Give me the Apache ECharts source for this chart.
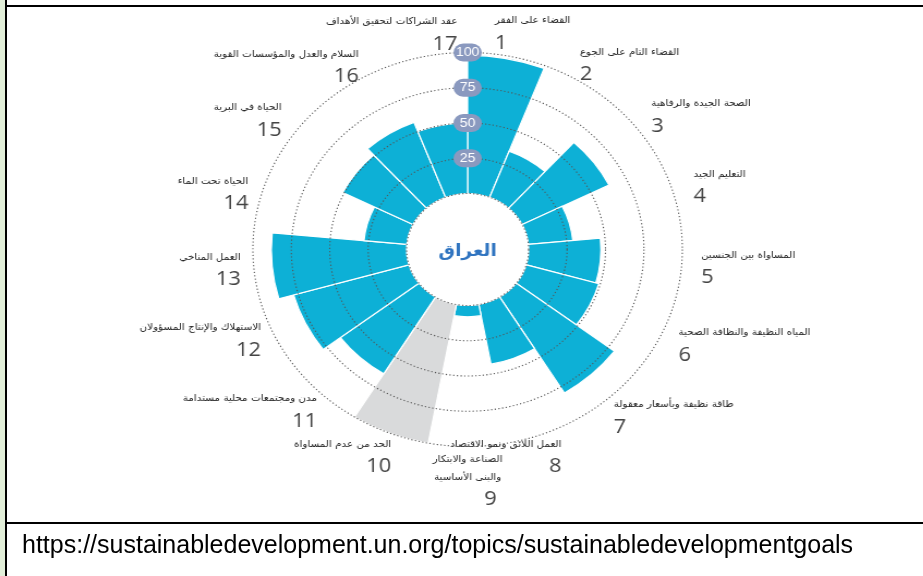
<!DOCTYPE html>
<html>
<head>
<meta charset="utf-8">
<script src="https://cdn.jsdelivr.net/npm/echarts@6/dist/echarts.min.js"></script>
<style>
  html, body { margin: 0; padding: 0; background: #fff; }
  #page { position: relative; width: 923px; height: 576px; overflow: hidden; }
  #chart { position: absolute; left: 0; top: 0; width: 847px; height: 520px; transform-origin: 0 0; transform: scaleX(1.09); }
  #strip { position: absolute; left: 0; top: 0; width: 5px; height: 576px; background: #e2efd9; }
  #vline { position: absolute; left: 5px; top: 0; width: 2px; height: 576px; background: #000; }
  #topline { position: absolute; left: 5px; top: 5px; width: 918px; height: 2px; background: #000; }
  #midline { position: absolute; left: 5px; top: 522px; width: 918px; height: 2px; background: #000; }
  #url { position: absolute; left: 22px; top: 530px; font: 25px 'Liberation Sans', Arial, sans-serif; color: #000; }
</style>
</head>
<body>
<div id="page">
  <div id="chart"></div>
  <div id="strip"></div>
  <div id="vline"></div>
  <div id="topline"></div>
  <div id="midline"></div>
  <div id="url">https://sustainabledevelopment.un.org/topics/sustainabledevelopmentgoals</div>
</div>
<script>
// the 17 goals, clockwise from the top
const goals = [
  'القضاء على الفقر',
  'القضاء التام على الجوع',
  'الصحة الجيدة والرفاهية',
  'التعليم الجيد',
  'المساواة بين الجنسين',
  'المياه النظيفة والنظافة الصحية',
  'طاقة نظيفة وبأسعار معقولة',
  'العمل اللائق ونمو الاقتصاد',
  'الصناعة والابتكار\nوالبنى الأساسية',
  'الحد من عدم المساواة',
  'مدن ومجتمعات محلية مستدامة',
  'الاستهلاك والإنتاج المسؤولان',
  'العمل المناخي',
  'الحياة تحت الماء',
  'الحياة في البرية',
  'السلام والعدل والمؤسسات القوية',
  'عقد الشراكات لتحقيق الأهداف'
];
const goalNumbers = ['1', '2', '3', '4', '5', '6', '7', '8', '9', '10', '11', '12', '13', '14', '15', '16', '17'];
const scores = [98, 35, 63, 29, 47, 49, 80, 43, 8, 100, 64, 78, 88, 28, 51, 57, 50];
const greyGoals = ['10'];
const country = 'العراق';

const blue = '#0db0d6';
const grey = '#d9dadb';

// label layout: where the number sits under the name, and a small nudge [dx, dy]
const labelAlign = ['l', 'l', 'l', 'l', 'l', 'l', 'l', 'r', 'c', 'r', 'r', 'r', 'r', 'r', 'r', 'r', 'r'];
const labelNudge = [
  [22, 8], [-5, 12], [5, 13], [10, -6], [10, 0], [10, -17], [-4, -5], [-90, -5], [0, -4],
  [4, -5], [0, -11], [-6, -22], [-4, 2], [-4, 1], [-7, 17], [8, 14], [-32, 9]
];

const nameStyle = { fontFamily: 'DejaVu Sans', fontSize: 9.5, color: '#222', lineHeight: 18 };
const numStyle = { fontFamily: 'Open Sans', fontSize: 20, color: '#444', lineHeight: 26 };

const chart = echarts.init(document.getElementById('chart'));

const option = {
  animation: false,
  polar: {
    center: [429, 249.5],
    radius: [56, 197]
  },
  angleAxis: {
    type: 'category',
    data: goals.map((g, i) => ({
      value: g,
      textStyle: {
        padding: [labelNudge[i][1], -labelNudge[i][0], -labelNudge[i][1], labelNudge[i][0]]
      }
    })),
    startAngle: 90,
    clockwise: true,
    axisLine: { show: false },
    axisTick: { show: false },
    splitLine: { show: false },
    axisLabel: {
      margin: 8,
      formatter: (value, index) => {
        const a = labelAlign[index];
        return `{t${a}|${value}}\n{n${a}|${goalNumbers[index]}}`;
      },
      rich: {
        tl: { ...nameStyle, align: 'left' },
        nl: { ...numStyle, align: 'left' },
        tr: { ...nameStyle, align: 'right' },
        nr: { ...numStyle, align: 'right' },
        tc: { ...nameStyle, align: 'center' },
        nc: { ...numStyle, align: 'center', padding: [0, 0, 0, 42] }
      }
    }
  },
  radiusAxis: {
    min: 0,
    max: 100,
    interval: 25,
    z: 10,
    axisLine: { show: false },
    axisTick: { show: false },
    splitLine: {
      show: true,
      lineStyle: { color: '#555', width: 1.1, type: [1.2, 2.2] }
    },
    axisLabel: {
      showMinLabel: false,
      margin: 0,
      align: 'center',
      verticalAlign: 'middle',
      color: '#fff',
      fontFamily: 'Liberation Sans',
      fontSize: 13,
      backgroundColor: '#8a99bf',
      borderRadius: 9,
      width: 22,
      lineHeight: 14,
      padding: [2, 2]
    }
  },
  graphic: [{
    type: 'text',
    x: 429,
    y: 252,
    z: 20,
    style: {
      text: country,
      align: 'center',
      verticalAlign: 'middle',
      font: 'bold 17px "DejaVu Sans"',
      fill: '#2f74c0'
    }
  }],
  series: [{
    type: 'bar',
    coordinateSystem: 'polar',
    barCategoryGap: '0%',
    silent: true,
    data: scores.map((v, i) => ({
      value: v,
      itemStyle: { color: greyGoals.includes(goalNumbers[i]) ? grey : blue }
    })),
    itemStyle: { borderColor: '#fff', borderWidth: 1.2 }
  }]
};

chart.setOption(option);
</script>
</body>
</html>
